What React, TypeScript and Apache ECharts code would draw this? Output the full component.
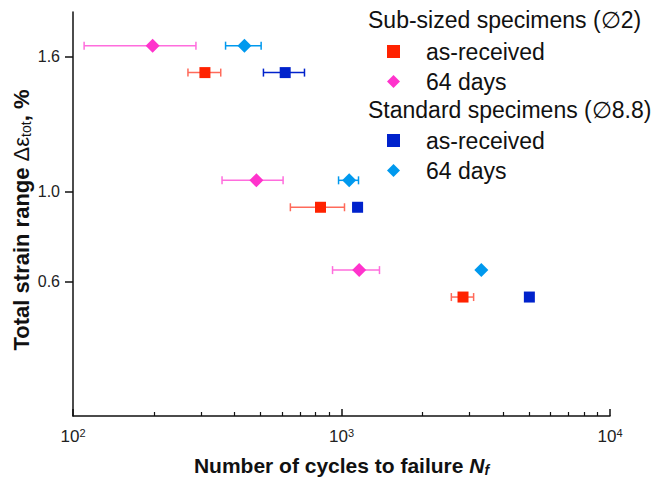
import React, { useEffect, useRef } from "react";
import * as echarts from "echarts";

// Cycles to failure (N_f) and total strain range (%) for each specimen group,
// with the min / max of the scatter in N_f drawn as horizontal error bars.
const subArN = [310, 835, 2835];
const subArStrain = [1.53, 0.93, 0.53];
const subArLo = [268, 645, 2565];
const subArHi = [355, 1026, 3105];

const sub64N = [198, 482, 1164];
const sub64Strain = [1.65, 1.05, 0.65];
const sub64Lo = [110, 359, 926];
const sub64Hi = [287, 606, 1385];

const stdArN = [617, 1148, 5008];
const stdArStrain = [1.53, 0.93, 0.53];
const stdArLo = [512, 1105, null];
const stdArHi = [728, 1190, null];

const std64N = [435, 1068, 3317];
const std64Strain = [1.65, 1.05, 0.65];
const std64Lo = [370, 975, null];
const std64Hi = [502, 1157, null];

const strainTicks = [0.6, 1.0, 1.6];
const majorCycleTicks = [100, 1000, 10000];
const minorCycleTicks = [200, 300, 400, 500, 600, 700, 800, 900, 2000, 3000, 4000, 5000, 6000, 7000, 8000, 9000];

const FONT = "'Liberation Sans', Arial, sans-serif";

const RED = "#ff2200";
const RED_BAR = "#ff6a5a";
const MAGENTA = "#ff33cc";
const MAGENTA_BAR = "#ff6ddd";
const NAVY = "#0022cc";
const SKY = "#0099ee";

const points = (xs: number[], ys: number[]) => xs.map((x, i) => [x, ys[i]]);
const ranges = (lo: (number | null)[], hi: (number | null)[], ys: number[]) =>
  lo
    .map((l, i) => (l == null || hi[i] == null ? null : [l, hi[i], ys[i]]))
    .filter((d) => d !== null);

function errorBarSeries(data: any[], color: string) {
  return {
    type: "custom",
    silent: true,
    z: 1,
    data,
    encode: { x: [0, 1], y: 2 },
    renderItem: (_params: any, api: any) => {
      const lo = api.coord([api.value(0), api.value(2)]);
      const hi = api.coord([api.value(1), api.value(2)]);
      const cap = 4;
      const style = { stroke: color, lineWidth: 1.5 };
      return {
        type: "group",
        children: [
          { type: "line", shape: { x1: lo[0], y1: lo[1], x2: hi[0], y2: hi[1] }, style },
          { type: "line", shape: { x1: lo[0], y1: lo[1] - cap, x2: lo[0], y2: lo[1] + cap }, style },
          { type: "line", shape: { x1: hi[0], y1: hi[1] - cap, x2: hi[0], y2: hi[1] + cap }, style },
        ],
      };
    },
  };
}

const legendNames: Record<string, string> = {
  "Sub-sized as-received": "as-received",
  "Sub-sized 64 days": "64 days",
  "Standard as-received": "as-received",
  "Standard 64 days": "64 days",
};

function legendBlock(names: string[], top: number) {
  return {
    orient: "vertical",
    left: 382,
    top,
    itemWidth: 13,
    itemHeight: 13,
    itemGap: 7,
    data: names,
    formatter: (name: string) => "{gap|}" + legendNames[name],
    textStyle: {
      fontFamily: FONT,
      fontSize: 23,
      color: "#111",
      lineHeight: 23,
      rich: { gap: { width: 21 } },
    },
  };
}

function scatter(name: string, symbol: string, size: number, color: string, data: number[][]) {
  return {
    name,
    type: "scatter",
    symbol,
    symbolSize: size,
    z: 3,
    itemStyle: { color, opacity: 1 },
    data,
  };
}

export default function App() {
  const ref = useRef<HTMLDivElement>(null);

  useEffect(() => {
    if (!ref.current) return;
    const chart = echarts.init(ref.current, undefined, { renderer: "svg" });
    chart.setOption({
      animation: false,
      backgroundColor: "#fff",
      grid: { left: 73, right: 52, top: 12, bottom: 61, containLabel: false, outerBoundsMode: "none" },
      xAxis: [
        {
          type: "log",
          logBase: 10,
          min: 100,
          max: 10000,
          name: "{b|Number of cycles to failure }{i|N}{s|f}",
          nameLocation: "middle",
          nameGap: 38,
          nameMoveOverlap: false,
          nameTextStyle: {
            fontFamily: FONT,
            color: "#111",
            rich: {
              b: { fontSize: 21, fontWeight: "bold", fontFamily: FONT, color: "#111" },
              i: { fontSize: 21, fontWeight: "bold", fontStyle: "italic", fontFamily: FONT, color: "#111" },
              s: { fontSize: 14, fontWeight: "bold", fontStyle: "italic", fontFamily: FONT, color: "#111", verticalAlign: "bottom", padding: [9, 0, 0, 0] },
            },
          },
          axisLine: { show: true, lineStyle: { color: "#111", width: 1.5 } },
          axisTick: { show: true, inside: true, length: 7, customValues: majorCycleTicks, lineStyle: { color: "#111", width: 1.5 } },
          axisLabel: {
            customValues: majorCycleTicks,
            margin: 11,
            formatter: (v: number) => "{base|10}{sup|" + Math.round(Math.log10(v)) + "}",
            fontFamily: FONT,
            fontSize: 16,
            color: "#222",
            rich: {
              base: { fontSize: 17, fontFamily: FONT, color: "#222" },
              sup: { fontSize: 11, fontFamily: FONT, color: "#222", verticalAlign: "top", padding: [0, 0, 8, 0] },
            },
          },
          splitLine: { show: false },
        },
        {
          type: "log",
          logBase: 10,
          min: 100,
          max: 10000,
          position: "bottom",
          offset: 0,
          axisLine: { show: false },
          axisTick: { show: true, inside: true, length: 4, customValues: minorCycleTicks, lineStyle: { color: "#111", width: 1.2 } },
          axisLabel: { show: false },
          splitLine: { show: false },
        },
      ],
      yAxis: {
        type: "value",
        min: 0,
        max: 1.8,
        name: "{b|Total strain range }{n|Δε}{s|tot}{b|, %}",
        nameLocation: "middle",
        nameGap: 40,
        nameMoveOverlap: false,
        nameTextStyle: {
          fontFamily: FONT,
          color: "#111",
          padding: [0, 12, 0, 0],
          rich: {
            b: { fontSize: 22, fontWeight: "bold", fontFamily: FONT, color: "#111" },
            n: { fontSize: 22, fontFamily: FONT, color: "#111" },
            s: { fontSize: 14, fontFamily: FONT, color: "#111", verticalAlign: "bottom", padding: [9, 0, 0, 0] },
          },
        },
        axisLine: { show: true, lineStyle: { color: "#111", width: 1.5 } },
        axisTick: { show: true, inside: false, length: 8, customValues: strainTicks, lineStyle: { color: "#111", width: 1.5 } },
        axisLabel: {
          customValues: strainTicks,
          margin: 13,
          formatter: (v: number) => v.toFixed(1),
          fontFamily: FONT,
          fontSize: 16,
          color: "#222",
        },
        splitLine: { show: false },
      },
      legend: [
        legendBlock(["Sub-sized as-received", "Sub-sized 64 days"], 35),
        legendBlock(["Standard as-received", "Standard 64 days"], 124),
      ],
      graphic: [
        {
          type: "text",
          left: 368,
          top: 8,
          style: { text: "Sub-sized specimens (∅2)", font: `23px ${FONT}`, fill: "#111" },
        },
        {
          type: "text",
          left: 368,
          top: 98,
          style: { text: "Standard specimens (∅8.8)", font: `23px ${FONT}`, fill: "#111" },
        },
      ],
      series: [
        errorBarSeries(ranges(subArLo, subArHi, subArStrain), RED_BAR),
        errorBarSeries(ranges(sub64Lo, sub64Hi, sub64Strain), MAGENTA_BAR),
        errorBarSeries(ranges(stdArLo, stdArHi, stdArStrain), NAVY),
        errorBarSeries(ranges(std64Lo, std64Hi, std64Strain), SKY),
        scatter("Sub-sized as-received", "rect", 11, RED, points(subArN, subArStrain)),
        scatter("Sub-sized 64 days", "diamond", 14, MAGENTA, points(sub64N, sub64Strain)),
        scatter("Standard as-received", "rect", 11, NAVY, points(stdArN, stdArStrain)),
        scatter("Standard 64 days", "diamond", 14, SKY, points(std64N, std64Strain)),
      ],
    });
    return () => chart.dispose();
  }, []);

  return (
    <div
      ref={ref}
      style={{ position: "absolute", left: 0, top: 0, width: 662, height: 477 }}
    />
  );
}
